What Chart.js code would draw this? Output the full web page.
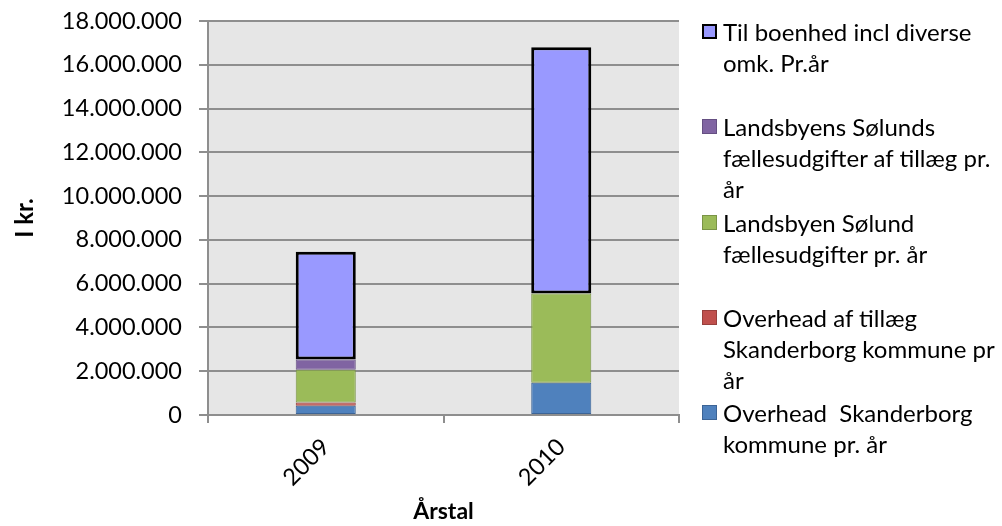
<!DOCTYPE html>
<html>
<head>
<meta charset="utf-8">
<script src="https://cdn.jsdelivr.net/npm/chart.js@4/dist/chart.umd.min.js"></script>
<style>
  html, body { margin: 0; padding: 0; background: #fff; }
  #wrap { position: relative; width: 1002px; height: 526px; }
  #legend { position: absolute; left: 702px; top: 0; font-family: Lato, sans-serif; font-size: 24px; line-height: 31px; color: #000; }
  .item { position: absolute; left: 0; white-space: pre; }
  .box { position: absolute; left: 0; top: 8px; width: 15px; height: 15px; box-sizing: border-box; }
  .txt { position: absolute; left: 21px; top: 0; }
</style>
</head>
<body>
<div id="wrap">
  <canvas id="bar-chart" width="1002" height="526"></canvas>
  <div id="legend"></div>
</div>
<script>
var years = ['2009', '2010'];

// stacked from the bottom up
var overheadSkanderborg = [420000, 1475000];
var overheadTillaeg = [150000, 0];
var faellesudgifter = [1500000, 4075000];
var faellesTillaeg = [470000, 0];
var boenhed = [4920000, 11250000];

var seriesNames = [
  'Overhead  Skanderborg kommune pr. år',
  'Overhead af tillæg Skanderborg kommune pr år',
  'Landsbyen Sølund fællesudgifter pr. år',
  'Landsbyens Sølunds fællesudgifter af tillæg pr. år',
  'Til boenhed incl diverse omk. Pr.år'
];
// how the legend wraps the names
var legendLines = [
  ['Overhead  Skanderborg', 'kommune pr. år'],
  ['Overhead af tillæg', 'Skanderborg kommune pr', 'år'],
  ['Landsbyen Sølund', 'fællesudgifter pr. år'],
  ['Landsbyens Sølunds', 'fællesudgifter af tillæg pr.', 'år'],
  ['Til boenhed incl diverse', 'omk. Pr.år']
];
var yTicks = [0, 2000000, 4000000, 6000000, 8000000, 10000000, 12000000, 14000000, 16000000, 18000000];

var fills = ['#4f81bd', '#c0504d', '#9bbb59', '#8064a2', '#9999ff'];
var borders = ['#3c6496', '#98403d', '#7a9446', '#654f82', '#000000'];
var borderWidths = [1, 1, 1, 1, 3];

var values = [overheadSkanderborg, overheadTillaeg, faellesudgifter, faellesTillaeg, boenhed];

var gridGray = '#8e8e8e';

function fmt(v) {
  return String(v).replace(/\B(?=(\d{3})+(?!\d))/g, '.');
}

var plotBg = {
  id: 'plotBg',
  beforeDraw: function(chart) {
    var a = chart.chartArea;
    var ctx = chart.ctx;
    ctx.save();
    ctx.fillStyle = '#e6e6e6';
    ctx.fillRect(a.left, a.top, a.right - a.left, a.bottom - a.top);
    ctx.restore();
  }
};

var datasets = values.map(function(v, i) {
  return {
    label: seriesNames[i],
    data: v,
    backgroundColor: fills[i],
    borderColor: borders[i],
    borderWidth: borderWidths[i],
    borderSkipped: false,
    barPercentage: 0.255,
    categoryPercentage: 1
  };
});

var config = {
  type: 'bar',
  data: { labels: years, datasets: datasets },
  options: {
    responsive: false,
    animation: false,
    layout: { padding: { left: 10, right: 323, top: 21, bottom: 0 } },
    plugins: {
      legend: { display: false },
      tooltip: { enabled: false }
    },
    scales: {
      x: {
        stacked: true,
        offset: true,
        afterFit: function(scale) {
          scale.height = 111;
          scale.paddingLeft = 0;
          scale.paddingRight = 0;
        },
        grid: {
          offset: true,
          drawOnChartArea: false,
          drawTicks: true,
          tickLength: 8,
          color: gridGray,
          lineWidth: 2
        },
        border: { color: gridGray, width: 2 },
        ticks: {
          minRotation: 45,
          maxRotation: 45,
          padding: 10,
          color: '#000',
          font: { family: 'Lato', size: 23.5 }
        },
        title: {
          display: true,
          text: 'Årstal',
          color: '#000',
          font: { family: 'Lato', size: 23, weight: 'bold' },
          padding: { top: 0, bottom: 1 }
        }
      },
      y: {
        stacked: true,
        min: 0,
        max: 18000000,
        afterFit: function(scale) {
          scale.width = 198;
          scale.paddingTop = 0;
          scale.paddingBottom = 0;
        },
        afterBuildTicks: function(scale) {
          scale.ticks = yTicks.map(function(t) { return { value: t }; });
        },
        grid: {
          color: gridGray,
          lineWidth: 2,
          tickLength: 9
        },
        border: { color: gridGray, width: 2 },
        ticks: {
          padding: 17,
          color: '#000',
          font: { family: 'Lato', size: 23.5 },
          callback: function(v) { return fmt(v); }
        },
        title: {
          display: true,
          text: 'I kr.',
          color: '#000',
          font: { family: 'Lato', size: 24, weight: 'bold' },
          padding: { top: 1, bottom: 0 }
        }
      }
    }
  },
  plugins: [plotBg]
};

var ctx = document.getElementById('bar-chart').getContext('2d');
var myChart = new Chart(ctx, config);

// legend, top entry is the top of the stack
var legend = document.getElementById('legend');
for (var k = 0; k < seriesNames.length; k++) {
  var i = seriesNames.length - 1 - k;
  var item = document.createElement('div');
  item.className = 'item';
  item.style.top = (16 + k * 95.3) + 'px';
  var box = document.createElement('div');
  box.className = 'box';
  box.style.background = fills[i];
  box.style.border = (i === 4 ? 2 : 1) + 'px solid ' + borders[i];
  var txt = document.createElement('div');
  txt.className = 'txt';
  txt.textContent = legendLines[i].join('\n');
  item.appendChild(box);
  item.appendChild(txt);
  legend.appendChild(item);
}
</script>
</body>
</html>
